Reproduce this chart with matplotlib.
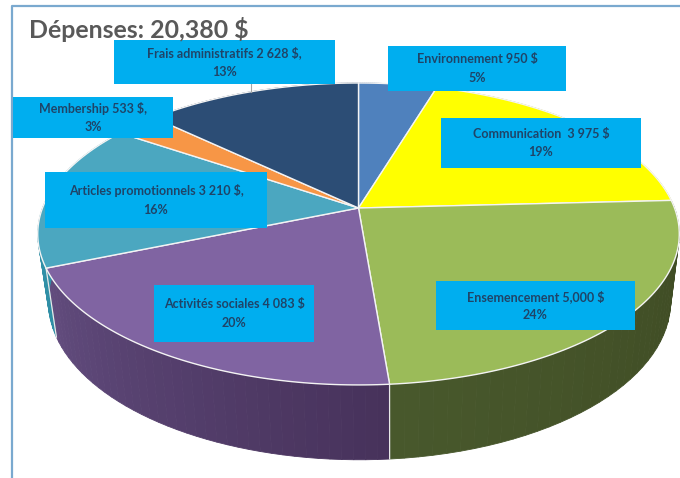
import numpy as np
import matplotlib
matplotlib.use('Agg')
import matplotlib.pyplot as plt
from matplotlib.patches import Polygon, Rectangle

# Category values, clockwise from the top of the pie
categories = ['Environnement', 'Communication', 'Ensemencement', 'Activités sociales',
              'Articles promotionnels', 'Membership', 'Frais administratifs']
values = [950, 3975, 5000, 4083, 3210, 533, 2628]
labels = ['Environnement 950 $\n5%', 'Communication  3 975 $\n19%', 'Ensemencement 5,000 $\n24%',
          'Activités sociales 4 083 $\n20%', 'Articles promotionnels 3 210 $,\n16%',
          'Membership 533 $,\n3%', 'Frais administratifs 2 628 $,\n13%']
title = 'Dépenses: 20,380 $'

top_colors = ['#4f81bd', '#ffff00', '#9bbb59', '#8064a2', '#4ba7c0', '#f79646', '#2c4d75']
side_start = ['#3a5f8c', '#b8b800', '#3e4a23', '#47325b', '#2f8ea5', '#b06a30', '#1f3754']
side_end = ['#3a5f8c', '#b8b800', '#48582c', '#624c7e', '#3596ad', '#b06a30', '#1f3754']

# label boxes in pixels: left, top, right, bottom
boxes = [(388, 46, 566, 91), (441, 118, 641, 168), (436, 281, 635, 330), (154, 285, 314, 342),
         (45, 172, 267, 228), (13, 97, 173, 138), (114, 40, 335, 84)]

APEX_X, APEX_Y = 358.5, 208
K = 0.172
A = 146.5
B = 316
SHRINK = 0.97


def rim(angle):
    """ Perspective projection of a point on the pie circle, angle clockwise from the top. """
    u, v = np.sin(angle), np.cos(angle)
    w = 1 + K * v
    return APEX_X + B * u / w, APEX_Y - A * v / w


def lower_rim(angle):
    x, y = rim(angle)
    return APEX_X + 1 + SHRINK * (x - APEX_X), APEX_Y + 66 + 1.05 * (y - APEX_Y)


def mix(c1, c2, t):
    a, b = np.array(matplotlib.colors.to_rgb(c1)), np.array(matplotlib.colors.to_rgb(c2))
    return tuple(a + (b - a) * t)


fig = plt.figure(figsize=(6.8, 4.78), dpi=100)
ax = fig.add_axes([0, 0, 1, 1])
ax.set_xlim(0, 680)
ax.set_ylim(478, 0)
ax.axis('off')

ax.plot([11.5, 11.5, 680], [478, 5.5, 5.5], color='#7aa9cf', lw=1.6, zorder=1)

edges = np.cumsum([0] + values) / sum(values) * 2 * np.pi

# side wall, shaded in thin strips
for i in range(len(values)):
    steps = np.linspace(edges[i], edges[i + 1], 40)
    for j in range(len(steps) - 1):
        t = j / (len(steps) - 2)
        a0, a1 = steps[j], steps[j + 1]
        quad = [rim(a0), rim(a1), lower_rim(a1), lower_rim(a0)]
        shade = mix(side_start[i], side_end[i], t)
        ax.add_patch(Polygon(quad, closed=True, fc=shade, ec=shade, lw=0.6, zorder=2))
    ax.plot(*zip(rim(edges[i]), lower_rim(edges[i])), color='#e8e8e8', lw=0.9, zorder=2.5)

# top face
for i in range(len(values)):
    steps = np.linspace(edges[i], edges[i + 1], 80)
    pts = [(APEX_X, APEX_Y)] + [rim(a) for a in steps]
    ax.add_patch(Polygon(pts, closed=True, fc=top_colors[i], ec='#f4f4f4', lw=1.0, zorder=3))

# leader line of the top label
ax.plot([251, 251], [84, 92], color='#a6a6a6', lw=0.8, zorder=3.5)

for label, (x0, y0, x1, y1) in zip(labels, boxes):
    ax.add_patch(Rectangle((x0, y0), x1 - x0, y1 - y0, fc='#00aeef', ec='none', zorder=4))
    ax.text((x0 + x1) / 2, (y0 + y1) / 2, label, ha='center', va='center', family='Lato',
            fontweight='bold', fontsize=9.0, color='#1f4468', linespacing=1.62, zorder=5)

ax.text(29, 29, title, ha='left', va='center', family='Lato', fontweight='bold', fontsize=17.9,
        color='#595959', zorder=5)

fig.savefig('out.png', dpi=100)
